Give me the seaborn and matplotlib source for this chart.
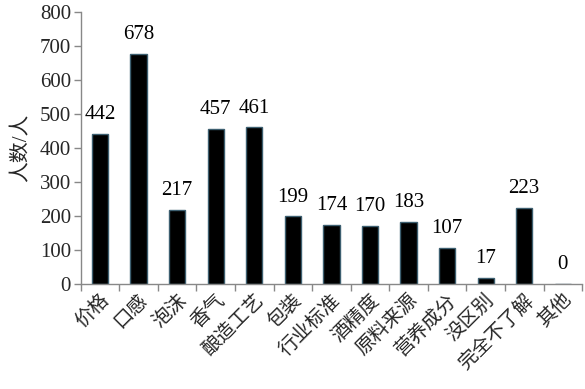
import matplotlib
matplotlib.use("Agg")
import matplotlib.pyplot as plt
import seaborn as sns
import pandas as pd

categories = ["价格", "口感", "泡沫", "香气", "酿造工艺", "包装", "行业标准", "酒精度",
              "原料来源", "营养成分", "没区别", "完全不了解", "其他"]
values = [442, 678, 217, 457, 461, 199, 174, 170, 183, 107, 17, 223, 0]
yticks = [0, 100, 200, 300, 400, 500, 600, 700, 800]

sns.set_theme(style="white")
plt.rcParams['font.family'] = ['Liberation Serif', 'Noto Sans CJK SC']

df = pd.DataFrame({"cat": categories, "val": values})

fig, ax = plt.subplots(figsize=(5.85, 3.89), dpi=100)
fig.subplots_adjust(left=0.138, right=0.995, top=0.969, bottom=0.27)

sns.barplot(data=df, x="cat", y="val", color="black", edgecolor="#3d5f70",
            linewidth=1.0, width=0.42, ax=ax, saturation=1)

for i, v in enumerate(values):
    ax.annotate(str(v), xy=(i, v), xytext=(0, 7), textcoords="offset points",
                ha="center", va="bottom", fontsize=15, color="black")

ax.set_ylim(0, 800)
ax.set_yticks(yticks)
ax.set_yticklabels([str(t) for t in yticks], fontsize=15)
ax.set_xlim(-0.5, len(categories) - 0.5)
ax.set_xticks([i - 0.5 for i in range(len(categories) + 1)], minor=False)
ax.set_xticklabels([])
ax.set_xticks(range(len(categories)), minor=True)
ax.set_xticklabels(categories, minor=True, rotation=45, ha="right",
                   rotation_mode="anchor", fontsize=14)
ax.tick_params(axis="x", which="minor", length=0, pad=5)
ax.tick_params(axis="x", which="major", length=5, width=1, color="#888888", direction="out", bottom=True)
ax.tick_params(axis="y", length=5, width=1, color="#888888", direction="out", left=True, pad=2)

ax.set_xlabel("")
ax.set_ylabel("人数/人", fontsize=15, labelpad=6)

for s in ["top", "right"]:
    ax.spines[s].set_visible(False)
for s in ["left", "bottom"]:
    ax.spines[s].set_color("#888888")
    ax.spines[s].set_linewidth(1)

fig.savefig("out.png", dpi=100)
